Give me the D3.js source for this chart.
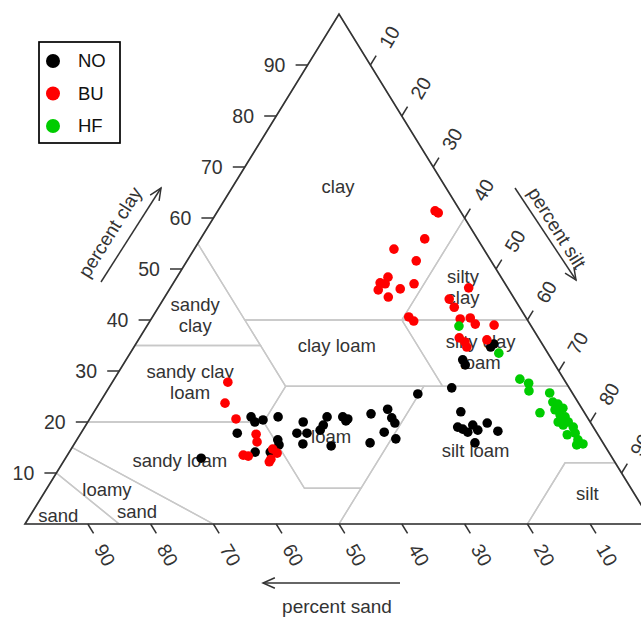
<!DOCTYPE html>
<html><head><meta charset="utf-8">
<script src="https://cdn.jsdelivr.net/npm/d3@7"></script>
<style>body{margin:0;background:#fff} svg text{font-family:"Liberation Sans",Arial,Helvetica,sans-serif}</style>
</head><body><svg id="chart" width="641" height="617"></svg>
<script>
// ---------- data ----------
const groups = ["NO", "BU", "HF"];
const tickValues = [10, 20, 30, 40, 50, 60, 70, 80, 90];

const noClay = [34.7,35.3,32.2,31.2,21.0,20.0,20.4,21.0,17.8,16.5,15.5,14.1,14.1,12.9,20.0,17.8,17.8,15.7,19.4,21.0,18.4,15.3,21.0,20.6,20.2,21.6,22.5,20.8,19.8,18.0,16.7,15.9,25.5,26.7,22.0,19.0,18.6,19.4,18.4,19.8,18.2,15.9,18.0];
const noSilt = [56.8,57.0,53.6,54.5,25.5,26.6,27.7,29.8,24.9,32.0,32.7,29.6,32.0,21.6,34.3,34.4,36.0,36.4,37.8,37.6,37.8,41.1,40.1,41.1,41.0,44.3,46.5,48.0,49.0,48.2,50.7,47.0,49.8,54.6,58.4,59.4,60.4,61.6,62.9,63.7,66.2,63.7,61.5];
const noSand = [8.5,7.7,14.2,14.3,53.5,53.4,51.9,49.2,57.3,51.5,51.8,56.3,53.9,65.5,45.7,47.8,46.2,47.9,42.8,41.4,43.8,43.6,38.9,38.3,38.8,34.1,31.0,31.2,31.2,33.8,32.6,37.1,24.7,18.7,19.6,21.6,21.0,19.0,18.7,16.5,15.6,20.4,20.5];

const buClay = [61.4,61.0,55.9,53.9,51.6,48.4,47.3,45.9,46.1,47.1,44.5,47.1,40.6,39.8,46.3,44.1,42.5,40.2,40.4,39.2,39.0,36.5,35.7,34.7,36.1,27.8,23.7,20.6,17.6,16.1,13.5,13.3,14.7,13.9,12.7,12.2];
const buSilt = [34.6,35.3,35.7,31.8,36.5,33.6,32.9,33.3,36.7,38.4,35.6,33.8,40.8,42.0,47.5,45.5,47.1,49.2,50.7,52.1,55.2,50.9,52.2,53.0,55.5,18.4,20.0,23.3,28.0,28.9,28.0,28.9,32.1,33.2,32.8,32.8];
const buSand = [4.0,3.7,8.4,14.3,11.9,18.0,19.8,20.8,17.2,14.5,19.9,19.1,18.6,18.2,6.2,10.4,10.4,10.6,8.9,8.7,5.8,12.6,12.1,12.3,8.4,53.8,56.3,56.1,54.4,55.0,58.5,57.8,53.2,52.9,54.5,55.0];

const hfClay = [38.8,33.5,28.4,27.6,26.1,25.7,21.8,23.9,23.5,22.7,22.4,21.4,21.0,20.0,20.0,19.4,19.0,17.5,17.8,16.5,15.7,15.5,20.4];
const hfSilt = [49.7,58.7,64.6,66.4,67.2,70.7,71.1,72.1,73.1,74.3,73.2,74.5,75.5,74.9,76.5,76.0,77.8,77.6,78.7,79.8,81.0,80.1,75.1];
const hfSand = [11.5,7.8,7.0,6.0,6.7,3.6,7.1,4.0,3.4,3.0,4.4,4.1,3.5,5.1,3.5,4.6,3.2,4.9,3.5,3.7,3.3,4.4,4.5];

// USDA texture class polygons, vertices as [clay, silt]
const classNames = ["clay","sandy clay","silty clay","sandy clay loam","clay loam","silty clay loam","loam","silt loam","silt","sandy loam","loamy sand","sand"];
const classPolys = [
  [[100,0],[55,0],[40,15],[40,40],[60,40]],
  [[55,0],[35,0],[35,20],[40,15]],
  [[60,40],[40,40],[40,60]],
  [[35,0],[20,0],[20,28],[27,28],[35,20]],
  [[40,15],[27,28],[27,53],[40,40]],
  [[40,40],[27,53],[27,73],[40,60]],
  [[27,28],[20,28],[7,41],[7,50],[27,50]],
  [[27,50],[0,50],[0,80],[12,80],[12,88],[27,73]],
  [[0,80],[0,100],[12,88],[12,80]],
  [[20,0],[15,0],[0,30],[0,50],[7,50],[7,41],[20,28]],
  [[15,0],[10,0],[0,15],[0,30]],
  [[10,0],[0,0],[0,15]]
];
// class label text lines and anchor [clay, silt]
const labelLines = [["clay"],["silty","clay"],["sandy","clay"],["clay loam"],["silty clay","loam"],["sandy clay","loam"],["loam"],["sandy loam"],["silt loam"],["loamy"],["sand"],["sand"],["silt"]];
const labelAt = [[66.1,16.8],[46.5,46.5],[41.0,6.6],[34.9,32.2],[33.7,55.7],[27.8,12.4],[17.1,40.2],[12.5,18.4],[14.5,64.5],[6.7,9.7],[2.5,16.6],[1.6,4.5],[5.9,86.6]];

// ---------- drawing ----------
const colors = {NO:"#000000", BU:"#ff0000", HF:"#00cc00"};
const ink = "#333333";
const svg = d3.select("#chart");
const xS = d3.scaleLinear().domain([0,100]).range([25,653]);   // along base
const yS = d3.scaleLinear().domain([0,100]).range([524,14]);   // clay
const pos = (clay, silt) => [xS(silt + clay/2), yS(clay)];

// class boundaries
const line = d3.line();
svg.append("g").selectAll("path").data(classPolys).join("path")
  .attr("d", p => line(p.map(v => pos(v[0], v[1]))) + "Z")
  .attr("fill","none").attr("stroke","#c8c8c8").attr("stroke-width",1.4);

// outer triangle
svg.append("path").attr("d", line([pos(0,0),pos(100,0),pos(0,100)]) + "Z")
  .attr("fill","none").attr("stroke",ink).attr("stroke-width",1.7).attr("stroke-linejoin","miter");

// class labels
const lab = svg.append("g").attr("fill",ink).attr("font-size",18.5).attr("text-anchor","middle");
labelLines.forEach((ls, i) => {
  const [x, y] = pos(labelAt[i][0], labelAt[i][1]);
  const lh = 21, y0 = y - (ls.length - 1) * lh / 2;
  ls.forEach((t, j) => lab.append("text").attr("x", x).attr("y", y0 + j*lh).attr("dy","0.35em").text(t));
});

// ticks
const tk = svg.append("g").attr("stroke",ink).attr("stroke-width",1.5);
const tl = svg.append("g").attr("fill",ink).attr("font-size",19.5).attr("text-anchor","middle");
const ux = 314/Math.hypot(314,510), uy = 510/Math.hypot(314,510);
tickValues.forEach(v => {
  // left: percent clay
  let [x, y] = pos(v, 0);
  tk.append("line").attr("x1",x).attr("y1",y).attr("x2",x-12).attr("y2",y);
  tl.append("text").attr("x",x-33).attr("y",y).attr("dy","0.35em").text(v);
  // bottom: percent sand
  [x, y] = pos(0, 100 - v);
  tk.append("line").attr("x1",x).attr("y1",y).attr("x2",x+11*ux).attr("y2",y+11*uy);
  tl.append("text").attr("transform",`translate(${x+17},${y+31}) rotate(60)`).attr("dy","0.35em").text(v);
  // right: percent silt
  [x, y] = pos(100 - v, v);
  tk.append("line").attr("x1",x).attr("y1",y).attr("x2",x+11*ux).attr("y2",y-11*uy);
  tl.append("text").attr("transform",`translate(${x+19},${y-28}) rotate(-60)`).attr("dy","0.35em").text(v);
});

// axis titles with arrows
const ag = svg.append("g").attr("stroke",ink).attr("stroke-width",1.5).attr("fill","none");
function arrow(x1,y1,x2,y2){
  ag.append("line").attr("x1",x1).attr("y1",y1).attr("x2",x2).attr("y2",y2);
  const a = Math.atan2(y2-y1, x2-x1), L = 13, s = 0.42;
  ag.append("path").attr("d", d3.line()([[x2-L*Math.cos(a-s), y2-L*Math.sin(a-s)],[x2,y2],[x2-L*Math.cos(a+s), y2-L*Math.sin(a+s)]]));
}
arrow(101,282,161,188);
arrow(515,188,576,280);
arrow(400,583,263,583);
const tt = svg.append("g").attr("fill",ink).attr("font-size",19).attr("text-anchor","middle");
tt.append("text").attr("transform","translate(110,232) rotate(-58)").attr("dy","0.35em").text("percent clay");
tt.append("text").attr("transform","translate(557,228) rotate(58)").attr("dy","0.35em").text("percent silt");
tt.append("text").attr("x",337).attr("y",606).attr("dy","0.35em").text("percent sand");

// points
const sets = {
  NO: noClay.map((c,i) => ({c, s: noSilt[i], d: noSand[i]})),
  BU: buClay.map((c,i) => ({c, s: buSilt[i], d: buSand[i]})),
  HF: hfClay.map((c,i) => ({c, s: hfSilt[i], d: hfSand[i]}))
};
groups.forEach(g => {
  svg.append("g").selectAll("circle").data(sets[g]).join("circle")
    .attr("cx", d => pos(d.c, d.s)[0]).attr("cy", d => pos(d.c, d.s)[1])
    .attr("r", 4.8).attr("fill", colors[g]);
});

// legend
const lg = svg.append("g");
lg.append("rect").attr("x",39).attr("y",42).attr("width",81).attr("height",101)
  .attr("fill","#fff").attr("stroke","#000").attr("stroke-width",1.7);
groups.forEach((g,i) => {
  const y = 61 + i*32.5;
  lg.append("circle").attr("cx",53).attr("cy",y).attr("r",7).attr("fill",colors[g]);
  lg.append("text").attr("x",78).attr("y",y).attr("dy","0.35em").attr("font-size",18.5).attr("fill","#111").text(g);
});
</script></body></html>
